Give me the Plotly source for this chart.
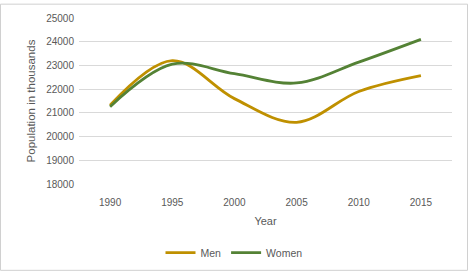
import plotly.graph_objects as go

years = ["1990", "1995", "2000", "2005", "2010", "2015"]
men = [21320, 23200, 21600, 20600, 21900, 22570]
women = [21260, 23050, 22650, 22260, 23140, 24100]
y_ticks = [18000, 19000, 20000, 21000, 22000, 23000, 24000, 25000]

W, H = 468, 280
L, R, T, B = 79, 16, 15, 91
pw, ph = W - L - R, H - T - B

font = dict(family="Liberation Sans, Arial", size=10, color="#595959")

fig = go.Figure()
fig.add_trace(go.Scatter(x=years, y=men, name="Men", mode="lines",
                         line=dict(color="#BF9000", width=2.8, shape="spline", smoothing=1)))
fig.add_trace(go.Scatter(x=years, y=women, name="Women", mode="lines",
                         line=dict(color="#548235", width=2.8, shape="spline", smoothing=1)))

fig.update_layout(
    width=W, height=H,
    margin=dict(l=L, r=R, t=T, b=B),
    paper_bgcolor="white", plot_bgcolor="white",
    font=font,
    showlegend=True,
    legend=dict(orientation="h", x=(234 - L) / pw, xanchor="center",
                y=(T + ph - 261) / ph, yanchor="middle",
                font=dict(size=10.5, color="#595959"), itemwidth=30),
    xaxis=dict(type="category", range=[-0.5, 5.5],
               title=dict(text="Year", font=dict(size=11, color="#595959"), standoff=10),
               showgrid=False, showline=False, ticks="", tickfont=font, ticklabelstandoff=11),
    yaxis=dict(title=dict(text="Population in thousands", font=dict(size=11.5, color="#595959"), standoff=8),
               range=[18000, 25000], tickvals=y_ticks, tickformat="d", showgrid=True, gridcolor="#D9D9D9",
               gridwidth=1, zeroline=False, showline=False, ticks="", tickfont=font, ticklabelstandoff=4),
    shapes=[dict(type="rect", xref="paper", yref="paper",
                 x0=-(L - 0.5) / pw, x1=1 + (R - 0.5) / pw,
                 y0=-(B - 0.5) / ph, y1=1 + (T - 0.5) / ph,
                 line=dict(color="#D0D0D0", width=1), layer="above")],
)

fig.write_html("out.html", config={"displayModeBar": False},
               post_script="document.body.style.margin='0';")
